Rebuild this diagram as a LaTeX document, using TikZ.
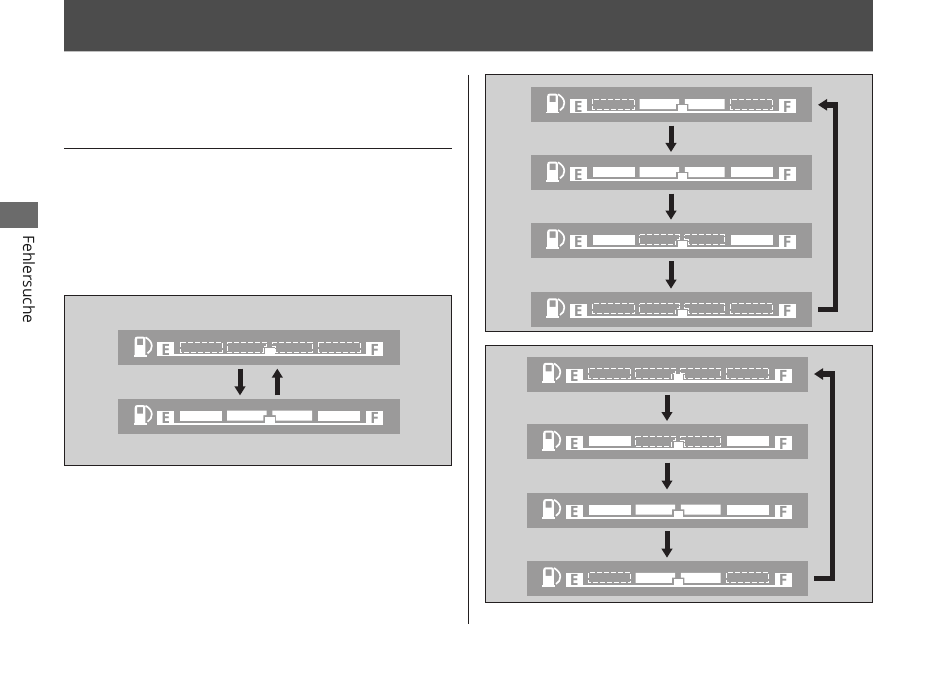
\documentclass[tikz,border=0pt]{standalone}
\usepackage{fontspec}
\setmainfont{Open Sans}
\usetikzlibrary{arrows.meta,calc}
\definecolor{boxbg}{RGB}{208,208,208}
\definecolor{panelbg}{RGB}{155,154,154}
\definecolor{ink}{RGB}{35,31,32}
\definecolor{letter}{RGB}{150,150,150}
\tikzset{
  framebox/.style={draw=ink,line width=0.9pt,fill=boxbg},
  panel/.style={fill=panelbg,minimum width=281pt,minimum height=35pt,inner sep=0pt,outer sep=0pt,anchor=north west},
  rule/.style={draw=ink,line width=0.9pt},
  seg on/.style={fill=white},
  seg off/.style={draw=white,line width=0.7pt,dash pattern=on 5pt off 2pt},
  gaugeletter/.style={text=letter,font=\fontsize{15.5}{15.5}\selectfont\bfseries,inner sep=0pt},
  stepdown/.style={draw=ink,line width=5pt,-{Triangle[width=10.5pt,length=9pt]},shorten >=3.3pt,shorten <=3.3pt},
  loopline/.style={draw=ink,line width=5.5pt,-{Triangle[width=11pt,length=9pt]}},
}
\newcommand{\gauge}[7]{%
  \node[panel] (#1) at (#2,#3) {};
  \begin{scope}[shift={(#1.north west)}]
    % pump
    \fill[white,even odd rule] (16.7,25) -- (16.7,9) .. controls (16.7,7.2) and (17.7,6.3) .. (19.2,6.3) -- (25,6.3) .. controls (26.5,6.3) and (27.4,7.2) .. (27.4,9) -- (27.4,25) -- cycle
      (19.2,8.3) rectangle (25.2,14.8);
    \fill[white] (15.5,24.3) rectangle (28.8,26.2);
    \draw[white,line width=1.7pt] (27.5,7) .. controls (31,9) and (33.8,12) .. (33.8,15.5) .. controls (33.8,18.5) and (32.5,21.5) .. (29.5,23);
    % baseline and letter boxes
    \fill[white] (39,23.8) rectangle (265,26);
    \fill[white] (39,12) rectangle (56,26);
    \fill[white] (248,12) rectangle (265,26);
    \node[gaugeletter] at (47.6,19.3) {E};
    \node[gaugeletter] at (256.5,19.3) {F};
    % segments
    \path[seg #4] (62,11.8) rectangle (104,21.8);
    \path[seg #5] (109,11.8) -- (148.7,11.8) -- (148.7,16.5) -- (145.3,16.5) -- (145.3,21.8) -- (109,21.8) -- cycle;
    \path[seg #6] (154.3,11.8) -- (194,11.8) -- (194,21.8) -- (157.8,21.8) -- (157.8,16.5) -- (154.3,16.5) -- cycle;
    \path[seg #7] (200,11.8) rectangle (242,21.8);
    \fill[white] (147,17.8) rectangle (156.5,24.5);
  \end{scope}
}
\begin{document}
\begin{tikzpicture}[x=1pt,y=-1pt]
\useasboundingbox (0,0) rectangle (950,674);
\fill[white] (0,0) rectangle (950,674);
% header band
\fill[black!70] (64,0) rectangle (873,51);
\fill[black!25] (64,51) rectangle (873,52);
% side tab and label
\fill[black!58] (0,202) rectangle (38,227.5);
\node[rotate=-90,anchor=west,inner sep=0pt,text=black!90,font=\fontsize{15.6}{16}\selectfont] (tab) at (29,235) {Fehlersuche};
% rules
\draw[rule] (64,148.6) -- (452,148.6);
\draw[rule] (468.4,75) -- (468.4,624);
% frames
\path[framebox] (64.5,295.5) rectangle (451.5,465.5);
\path[framebox] (485.5,74.5) rectangle (872.5,331.5);
\path[framebox] (485.5,345) rectangle (872.5,602.5);
% left box
\begin{scope}[panel/.append style={minimum width=282pt}]
\gauge{a1}{118}{330.3}{off}{off}{off}{off}
\gauge{a2}{118}{398.7}{on}{on}{on}{on}
\end{scope}
\draw[stepdown] ($(a1.south)+(-19,0)$) -- ($(a2.north)+(-19,0)$);
\draw[stepdown] ($(a2.north)+(18.3,0)$) -- ($(a1.south)+(18.3,0)$);
% top right
\gauge{b1}{530.5}{87.3}{off}{on}{on}{off}
\gauge{b2}{530.5}{155.3}{on}{on}{on}{on}
\gauge{b3}{530.5}{223}{on}{off}{off}{on}
\gauge{b4}{530.5}{292}{off}{off}{off}{off}
\draw[stepdown] (b1) -- (b2);
\draw[stepdown] (b2) -- (b3);
\draw[stepdown] (b3) -- (b4);
\draw[loopline,shorten <=6.5pt,shorten >=6.5pt] (b4.east) -- ++(24,0) |- (b1.east);
% lower right
\gauge{c1}{526.5}{356.5}{off}{off}{off}{off}
\gauge{c2}{526.5}{424.3}{on}{off}{off}{on}
\gauge{c3}{526.5}{492.8}{on}{on}{on}{on}
\gauge{c4}{526.5}{561}{off}{on}{on}{off}
\draw[stepdown] (c1) -- (c2);
\draw[stepdown] (c2) -- (c3);
\draw[stepdown] (c3) -- (c4);
\draw[loopline,shorten <=6.5pt,shorten >=6.5pt] (c4.east) -- ++(25,0) |- (c1.east);
\end{tikzpicture}
\end{document}
